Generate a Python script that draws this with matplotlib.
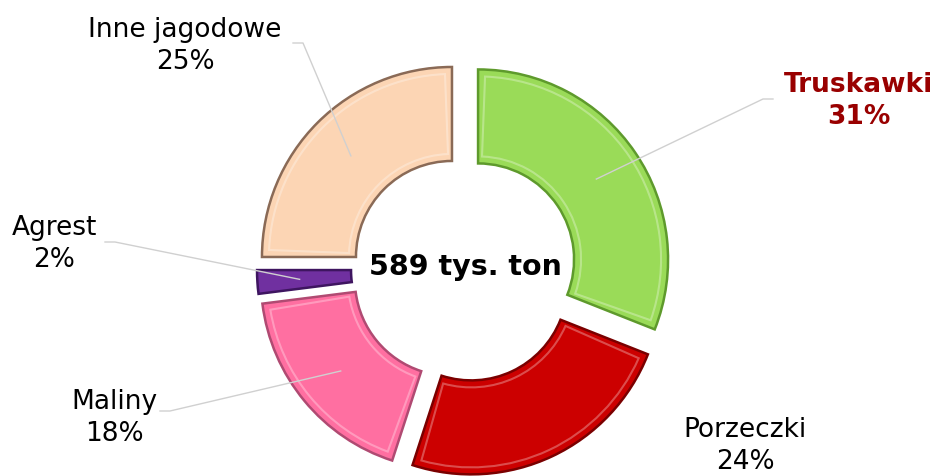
import matplotlib.pyplot as plt
from matplotlib.patches import Wedge
import numpy as np

# data
labels = ['Truskawki', 'Porzeczki', 'Maliny', 'Agrest', 'Inne jagodowe']
shares = [31, 24, 18, 2, 25]
colors = ['#9ADB58', '#CC0000', '#FF6FA1', '#7030A0', '#FCD5B4']
edge_colors = ['#5E9A2C', '#7A0000', '#B04A72', '#3E1560', '#8A6A56']
total_label = '589 tys. ton'

W, H = 939, 476
fig = plt.figure(figsize=(W / 100, H / 100), dpi=100)
ax = fig.add_axes([0, 0, 1, 1])


def py(y):
  # pixel row -> data y
  return H - y


center = (464, py(269))
R = 190
ring = 94
expl = 17  # pie explode is in data units

wedges, _ = ax.pie(shares, colors=colors, startangle=90, counterclock=False,
                   radius=R, center=center, explode=[expl] * len(shares),
                   wedgeprops=dict(width=ring), frame=True)
for w, ec in zip(wedges, edge_colors):
  w.set_edgecolor(ec)
  w.set_linewidth(1.8)

# soft bevel highlight inside each wedge
for w in wedges:
  th1, th2 = w.theta1, w.theta2
  if th2 - th1 < 10:
    continue
  pad = np.rad2deg(7 / (R - 7))
  inner = Wedge(w.center, R - 7, th1 + pad, th2 - pad, width=ring - 14,
                facecolor='none', edgecolor='white', alpha=0.3, lw=1.5)
  ax.add_patch(inner)

ax.set_xlim(0, W)
ax.set_ylim(0, H)
ax.set_aspect('equal')
ax.axis('off')

ax.text(center[0] + 1, center[1] + 2, total_label, ha='center', va='center',
        fontsize=20.5, fontweight='bold', color='black')

# label centres in pixels, elbow of leader line
label_pos = {
  'Truskawki': (859, 101),
  'Porzeczki': (745, 446),
  'Maliny': (114, 418),
  'Agrest': (54, 244),
  'Inne jagodowe': (185, 46),
}
elbows = {
  'Truskawki': ((773, 99), (763, 99)),
  'Maliny': ((160, 411), (170, 411)),
  'Agrest': ((105, 242), (115, 242)),
  'Inne jagodowe': ((293, 43), (303, 43)),
}

for w, name, s in zip(wedges, labels, shares):
  x, y = label_pos[name]
  if name == 'Truskawki':
    ax.text(x, py(y), f'{name}\n{s}%', ha='center', va='center', fontsize=19,
            fontweight='bold', color='#990000', linespacing=1.3)
  else:
    ax.text(x, py(y), f'{name}\n{s}%', ha='center', va='center', fontsize=19,
            color='black', linespacing=1.3)
  if name in elbows:
    mid = np.deg2rad((w.theta1 + w.theta2) / 2)
    rr = R - ring / 2
    if name == 'Agrest':
      rr = R - ring * 0.45
    ax_, ay_ = w.center[0] + rr * np.cos(mid), w.center[1] + rr * np.sin(mid)
    (x0, y0), (x1, y1) = elbows[name]
    ax.plot([x0, x1, ax_], [py(y0), py(y1), ay_], color='#D0D0D0', lw=1.0, zorder=5)

fig.savefig('out.png', dpi=100)
